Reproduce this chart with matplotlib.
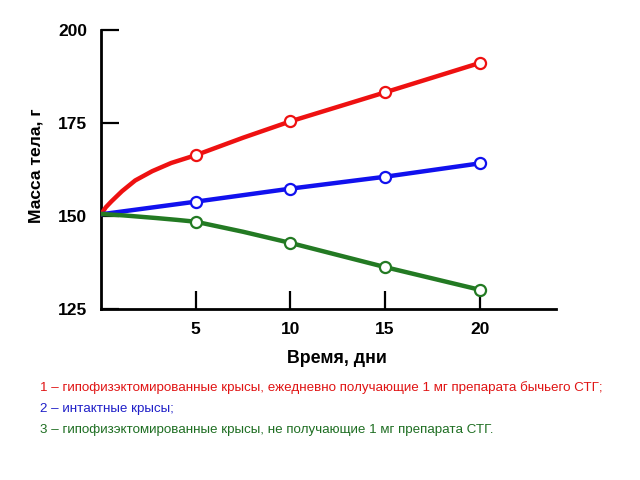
import numpy as np
import matplotlib
matplotlib.use("Agg")
import matplotlib.pyplot as plt

plt.rcParams['font.family'] = ['Liberation Sans', 'DejaVu Sans']

# Данные
days_red = [0, 0.25, 0.55, 1.1, 1.8, 2.7, 3.7, 5, 7.5, 10, 15, 20]
mass_red = [150.5, 152.4, 154.0, 156.7, 159.6, 162.1, 164.3, 166.4, 171.1, 175.5, 183.3, 191.2]

days_blue = [0, 5, 10, 15, 20]
mass_blue = [150.5, 153.9, 157.4, 160.6, 164.2]

days_green = [0, 1.2, 2.9, 4.0, 5, 7.5, 10, 15, 20]
mass_green = [150.6, 150.2, 149.5, 149.0, 148.5, 145.8, 142.8, 136.3, 130.2]

marker_days = [5, 10, 15, 20]

x_ticks = [5, 10, 15, 20]
y_ticks = [125, 150, 175, 200]

legend_lines = [
    ("1 – гипофизэктомированные крысы, ежедневно получающие 1 мг препарата бычьего СТГ;", '#e01414'),
    ("2 – интактные крысы;", '#2020c8'),
    ("3 – гипофизэктомированные крысы, не получающие 1 мг препарата СТГ.", '#1e6e22'),
]

fig = plt.figure(figsize=(6.4, 4.8), dpi=100)
ax = fig.add_axes([0.158, 0.356, 0.71, 0.581])

series = [
    (days_red, mass_red, '#ee1111'),
    (days_blue, mass_blue, '#1111ee'),
    (days_green, mass_green, '#237a23'),
]
for d, m, c in series:
    idx = [i for i, v in enumerate(d) if v in marker_days]
    ax.plot(d, m, color=c, lw=3.2, solid_capstyle='round', solid_joinstyle='round',
            zorder=3, marker='o', markevery=idx, markersize=8,
            markerfacecolor='white', markeredgecolor=c, markeredgewidth=1.6)

ax.set_xlim(0, 24)
ax.set_ylim(125, 200)
ax.spines['top'].set_visible(False)
ax.spines['right'].set_visible(False)
ax.spines['left'].set_linewidth(2)
ax.spines['bottom'].set_linewidth(2)

ax.set_xticks(x_ticks)
ax.set_yticks(y_ticks)
ax.tick_params(axis='both', direction='in', length=13, width=1.6, labelsize=12.5)
ax.tick_params(axis='x', pad=9)
ax.tick_params(axis='y', pad=10)
for lbl in ax.get_xticklabels() + ax.get_yticklabels():
    lbl.set_fontweight('bold')

ax.set_ylabel("Масса тела, г", fontsize=12.6, fontweight='bold')
ax.yaxis.set_label_coords(-0.127, 0.516)
ax.set_xlabel("Время, дни", fontsize=12.8, fontweight='bold')
ax.xaxis.set_label_coords(0.52, -0.145)

for i, (txt, c) in enumerate(legend_lines):
    fig.text(0.0625, 1 - (388 + 21 * i) / 480, txt, color=c, fontsize=9.6,
             va='center', ha='left')

fig.savefig("out.png", dpi=100)
